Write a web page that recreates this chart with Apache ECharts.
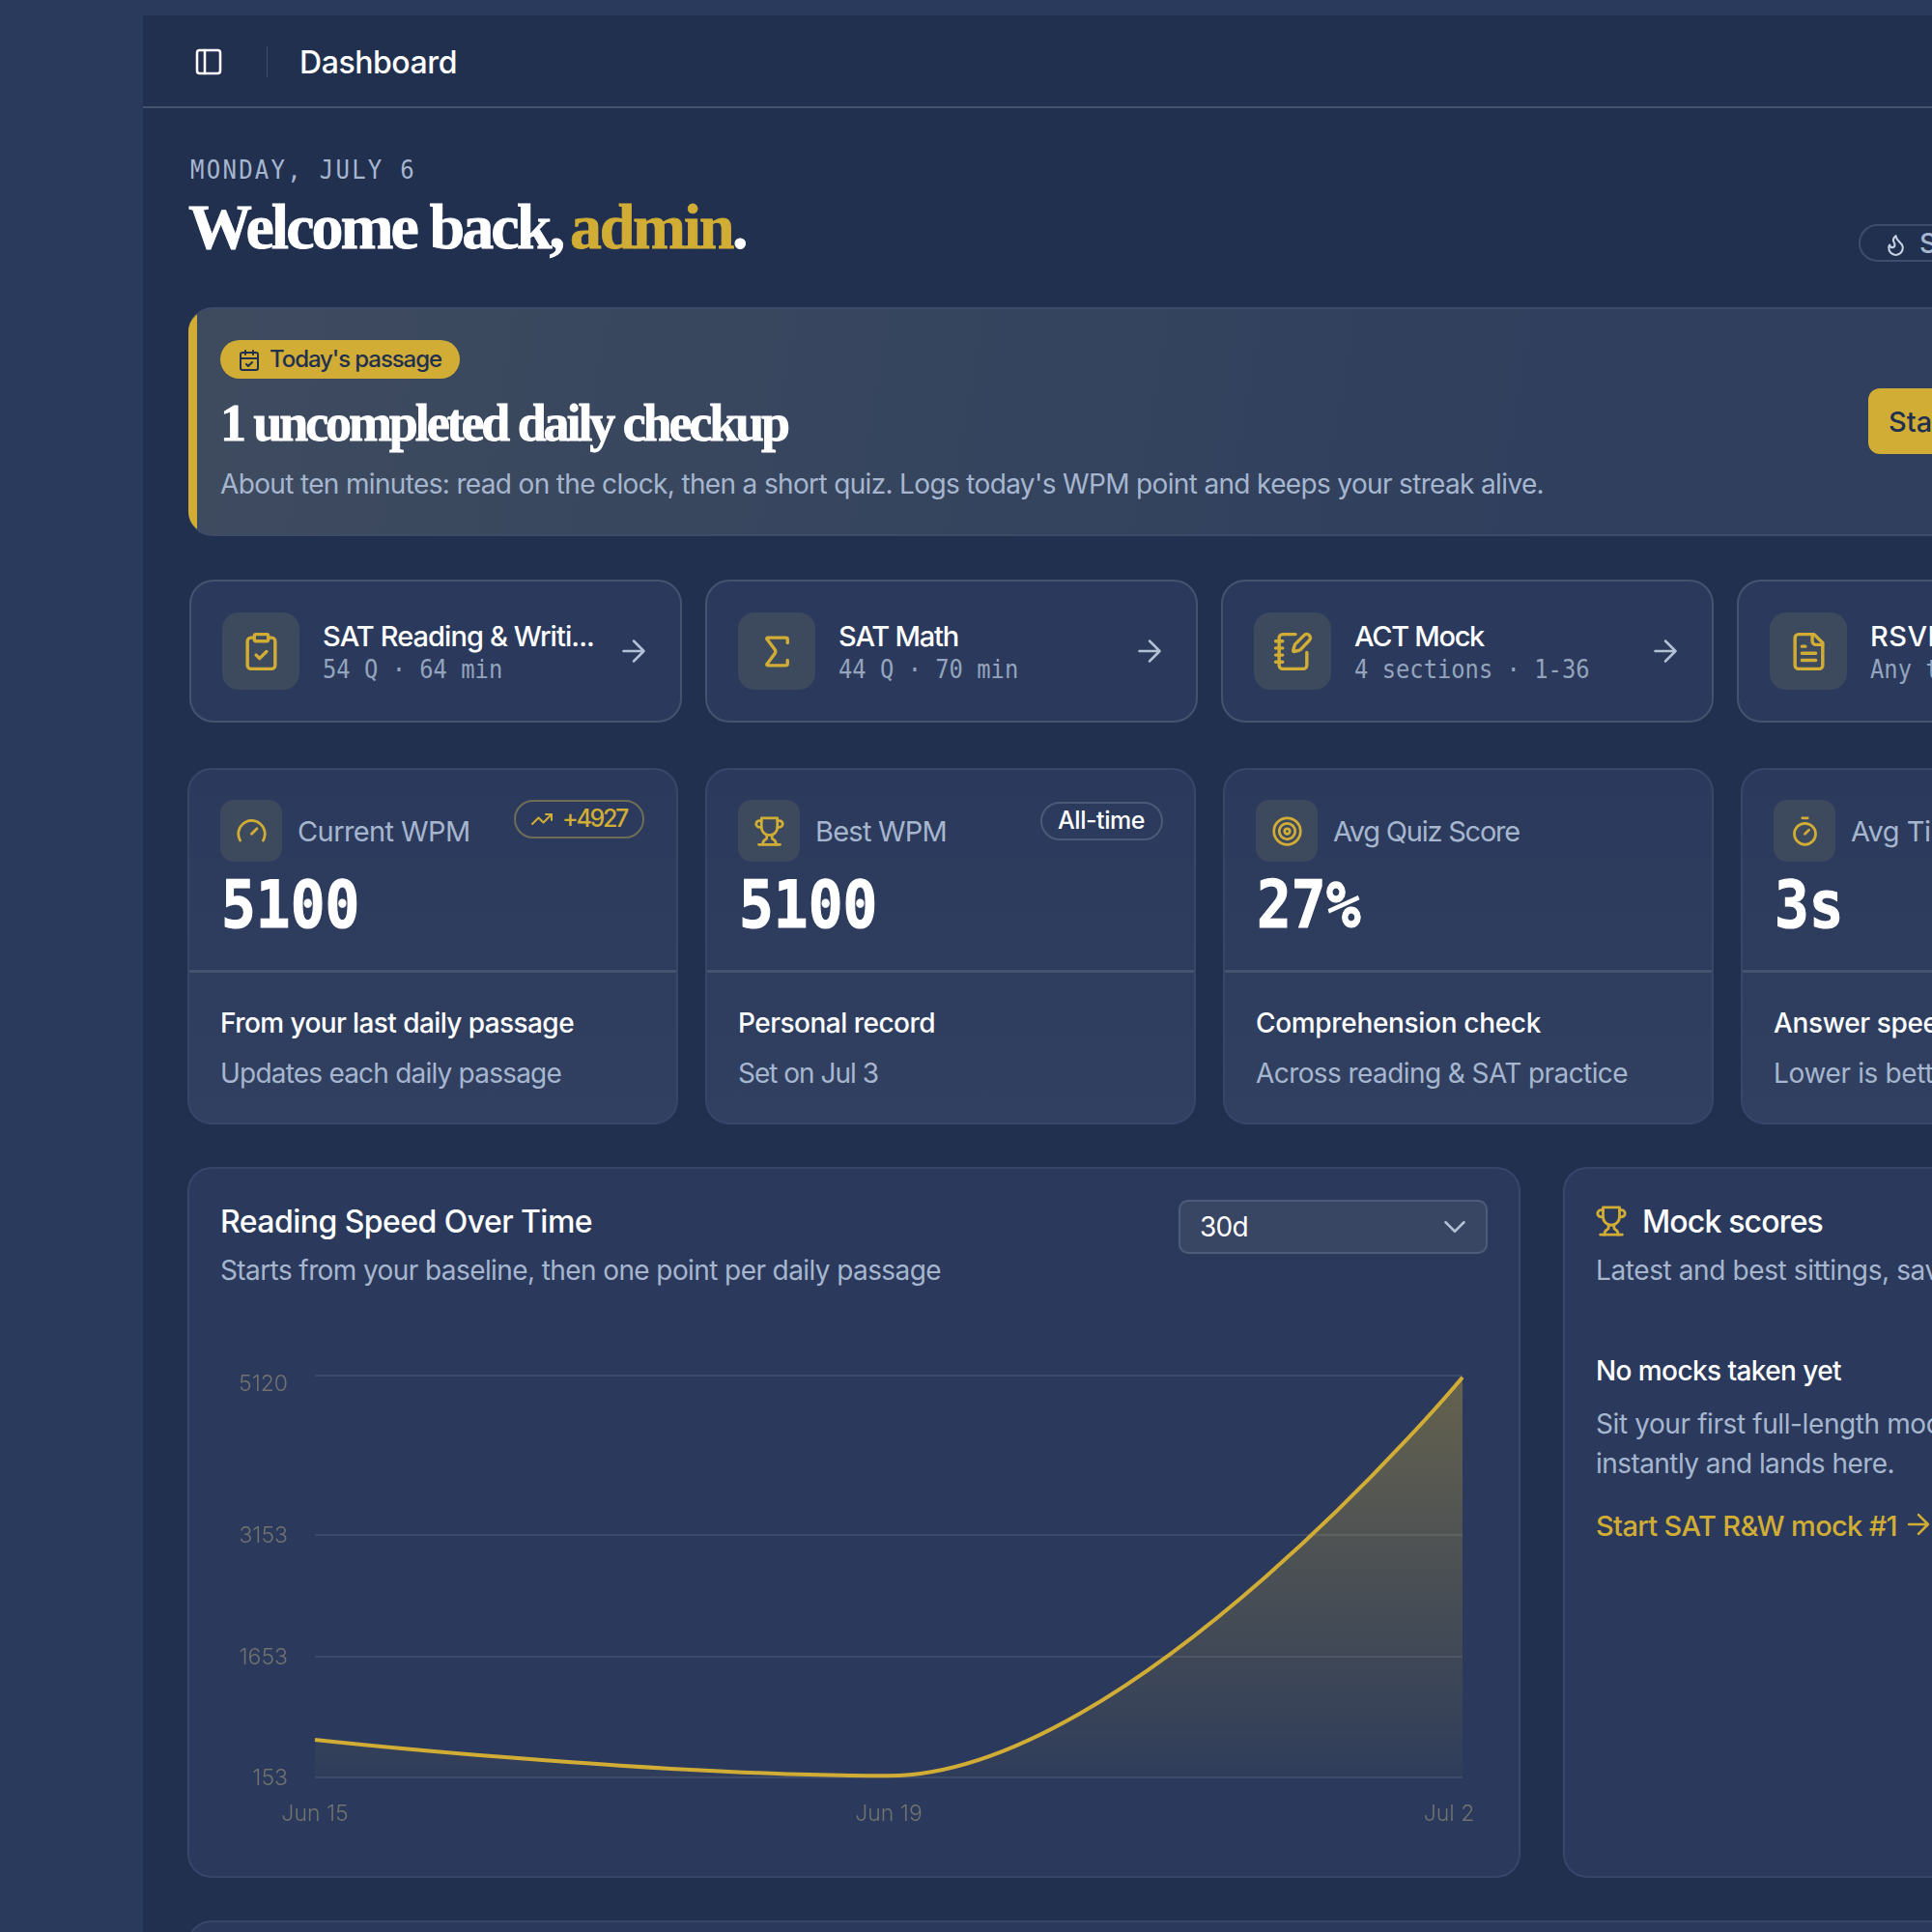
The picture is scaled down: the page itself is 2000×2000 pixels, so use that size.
<!DOCTYPE html>
<html><head><meta charset="utf-8"><title>Dashboard</title>
<script src="https://cdn.jsdelivr.net/npm/echarts@6/dist/echarts.min.js"></script>
<style>
html,body{margin:0;padding:0;width:2000px;height:2000px;overflow:hidden;background:#2a3a5c}
#page{position:relative;width:2000px;height:2000px;overflow:hidden;font-family:Inter,sans-serif}
.b{position:absolute;box-sizing:border-box}
.t{position:absolute;white-space:nowrap;line-height:1;transform:translateY(-50%)}
svg.i{position:absolute;fill:none;stroke-linecap:round;stroke-linejoin:round}
#chart{position:absolute;left:194px;top:1208px;width:1380px;height:736px}
</style></head><body><div id="page"></div>
<script>
// ---- chart data ----
const categories = ['Jun 15', 'Jun 19', 'Jul 2'];
const wpmValues = [620, 173, 5100];
const yTickValues = [153, 1653, 3153, 5120];
const yMin = 153;
const yMax = 5120;

// ---- page colours and fonts ----
const GOLD='#d1ad35', WHITE='#ffffff', MUTED='#a6b6cf', NAVY='#22304f', CARD='#2b3a5c', LINE='#3f4c6c';
const SANS='Inter,sans-serif', MONO='"DejaVu Sans Mono",monospace', SERIF='"Liberation Serif",serif';
const page=document.getElementById('page');

function box(x,y,w,h,css,parent){const d=document.createElement('div');d.className='b';d.style.cssText=`left:${x}px;top:${y}px;width:${w}px;height:${h}px;`+(css||'');(parent||page).appendChild(d);return d;}
function txt(x,cy,s,size,color,opt){opt=opt||{};const d=document.createElement('div');d.className='t';d.textContent=s;
  d.style.cssText=`left:${x}px;top:${cy}px;font-size:${size}px;color:${color};font-family:${opt.f||SANS};font-weight:${opt.w||400};`+(opt.css||'');
  page.appendChild(d);
  if(opt.fit){const r=d.getBoundingClientRect().width;d.style.letterSpacing=((opt.fit-r)/s.length)+'px';}
  if(opt.ls)d.style.letterSpacing=opt.ls+'px';
  return d;}
const ICONS={
 panel:'<rect x="3" y="3" width="18" height="18" rx="2"/><path d="M9 3v18"/>',
 calcheck:'<path d="M8 2v4M16 2v4"/><rect x="3" y="4" width="18" height="18" rx="2"/><path d="M3 10h18M9 16l2 2 4-4"/>',
 clip:'<rect x="8" y="2" width="8" height="4" rx="1"/><path d="M16 4h2a2 2 0 0 1 2 2v14a2 2 0 0 1-2 2H6a2 2 0 0 1-2-2V6a2 2 0 0 1 2-2h2"/><path d="m9 14 2 2 4-4"/>',
 sigma:'<path d="M18 7V5a1 1 0 0 0-1-1H6.5a.5.5 0 0 0-.4.8l4.5 6a2 2 0 0 1 0 2.4l-4.5 6a.5.5 0 0 0 .4.8H17a1 1 0 0 0 1-1v-2"/>',
 note:'<path d="M13.4 2H6a2 2 0 0 0-2 2v16a2 2 0 0 0 2 2h12a2 2 0 0 0 2-2v-7.4"/><path d="M2 6h4M2 10h4M2 14h4M2 18h4"/><path d="M21.4 5.6a2.1 2.1 0 1 0-3-3l-5 5a2 2 0 0 0-.5.9l-.8 2.9a.5.5 0 0 0 .6.6l2.9-.8a2 2 0 0 0 .9-.5z"/>',
 file:'<path d="M15 2H6a2 2 0 0 0-2 2v16a2 2 0 0 0 2 2h12a2 2 0 0 0 2-2V7z"/><path d="M14 2v4a2 2 0 0 0 2 2h4M10 9H8M16 13H8M16 17H8"/>',
 gauge:'<path d="m12 14 4-4"/><path d="M3.34 19a10 10 0 1 1 17.32 0"/>',
 trophy:'<path d="M6 9H4.5a2.5 2.5 0 0 1 0-5H6M18 9h1.5a2.5 2.5 0 0 0 0-5H18M4 22h16"/><path d="M10 14.66V17c0 .55-.47.98-.97 1.21C7.85 18.75 7 20.24 7 22M14 14.66V17c0 .55.47.98.97 1.21C16.15 18.75 17 20.24 17 22"/><path d="M18 2H6v7a6 6 0 0 0 12 0V2Z"/>',
 target:'<circle cx="12" cy="12" r="10"/><circle cx="12" cy="12" r="6"/><circle cx="12" cy="12" r="2"/>',
 timer:'<path d="M10 2h4M12 14l3-3"/><circle cx="12" cy="14" r="8"/>',
 trend:'<path d="m22 7-8.5 8.5-5-5L2 17"/><path d="M16 7h6v6"/>',
 arrow:'<path d="M5 12h14M12 5l7 7-7 7"/>',
 chev:'<path d="m6 9 6 6 6-6"/>',
 flame:'<path d="M8.5 14.5A2.5 2.5 0 0 0 11 12c0-1.38-.5-2-1-3-1.07-2.14-.22-4.05 2-6 .5 2.5 2 4.9 4 6.5 2 1.6 3 3.5 3 5.5a7 7 0 1 1-14 0c0-1.15.43-2.29 1-3a2.5 2.5 0 0 0 2.5 2.5z"/>'
};
function icon(name,cx,cy,size,color,sw){const ns='http://www.w3.org/2000/svg';const s=document.createElementNS(ns,'svg');
  s.setAttribute('class','i');s.setAttribute('viewBox','0 0 24 24');s.setAttribute('width',size);s.setAttribute('height',size);
  s.style.cssText=`left:${cx-size/2}px;top:${cy-size/2}px;stroke:${color};stroke-width:${sw||2}`;s.innerHTML=ICONS[name];page.appendChild(s);}

const HEAVY='-webkit-text-stroke:0.8px currentColor;';
// ---- shell ----
box(148,16,1852,1984,`background:${NAVY}`);
box(148,110,1852,2,'background:#46536f');
icon('panel',216,64,32,WHITE,1.9);
box(276,48,1,32,'background:#3f4c6c');
txt(310,65,'Dashboard',32,WHITE,{w:500,fit:163});
txt(197,176,'MONDAY, JULY 6',24,MUTED,{f:MONO,fit:234,css:'transform:translateY(-50%) scaleY(1.12);'});
txt(195,235,'Welcome back,',66,WHITE,{f:SERIF,w:700,fit:387,css:HEAVY});
txt(590,235,'admin',66,GOLD,{f:SERIF,w:700,fit:168,css:HEAVY});
txt(758,235,'.',66,WHITE,{f:SERIF,w:700,css:HEAVY});
box(1924,232,120,39,'border:2px solid #3f4c6c;border-radius:20px');
icon('flame',1962,253,25,'#c7d2e2',2);
txt(1987,252,'Streak',28,MUTED,{w:500});

// ---- hero ----
const hero=box(195,318,1900,237,'background:linear-gradient(100deg,#3e4b5f 0%,#2f3f5d 75%);border:2px solid #3d4a68;border-left:none;border-radius:25px;overflow:hidden');
box(0,-2,9,241,`background:${GOLD}`,hero);
box(228,352,248,40,`background:${GOLD};border-radius:20px`);
icon('calcheck',258,373,24,NAVY,2);
txt(279,372,"Today's passage",24,NAVY,{w:500,fit:178});
txt(228,438,'1 uncompleted daily checkup',54,WHITE,{f:SERIF,w:700,fit:587,css:HEAVY});
txt(228,501,"About ten minutes: read on the clock, then a short quiz. Logs today's WPM point and keeps your streak alive.",28,MUTED,{fit:1370});
box(1934,402,150,68,`background:${GOLD};border-radius:12px`);
txt(1955,436,'Start',29,NAVY,{w:500});

// ---- quick-start cards ----
const quick=[
 [196,'clip','SAT Reading & Writi...','54 Q · 64 min',281],
 [730,'sigma','SAT Math','44 Q · 70 min',124],
 [1264,'note','ACT Mock','4 sections · 1-36',134],
 [1798,'file','RSVP','Any text',null]];
quick.forEach(q=>{const x=q[0];
 box(x,600,510,148,`background:${CARD};border:2px solid #46536f;border-radius:25px`);
 box(x+34,634,80,80,'background:#3d4a5e;border-radius:17px');
 icon(q[1],x+74,674,43,GOLD,1.9);
 txt(x+138,658,q[2],29,WHITE,{w:500,fit:q[4],ls:q[4]?0:0.5});
 txt(x+138,694,q[3],23.8,'#94a4bd',{f:MONO,css:'transform:translateY(-50%) scaleY(1.1);'});
 if(x<1700)icon('arrow',x+460,674,36,'#b4c0d4',1.7);
});

// ---- stat cards ----
const stats=[
 [194,508,'gauge','Current WPM',178.6,'5100','From your last daily passage',366,'Updates each daily passage',353,34],
 [730,508,'trophy','Best WPM',136,'5100','Personal record',204,'Set on Jul 3',145,34],
 [1266,508,'target','Avg Quiz Score',193,'27%','Comprehension check',295,'Across reading & SAT practice',385,34],
 [1802,508,'timer','Avg Time',null,'3s','Answer speed',null,'Lower is better',null,34]];
stats.forEach(s=>{const x=s[0];const p=s[10];const last=s[4]===null;
 box(x,795,s[1],369,'background:linear-gradient(180deg,#2b3a5c 0%,#314060 100%);border:2px solid #38466a;border-radius:25px');
 box(x+2,1004,s[1]-4,3,'background:#46536f');
 box(x+p,828,64,64,'background:#3d4a5e;border-radius:14px');
 icon(s[2],x+p+32,860,33,GOLD,2);
 txt(x+p+80,860,s[3],29,MUTED,{fit:s[4],ls:last?-0.5:0});
 txt(x+p+1,937,s[5],59.5,WHITE,{f:MONO,w:700,css:'transform:translateY(-50%) scaleY(1.13);-webkit-text-stroke:1px #fff;'});
 txt(x+p,1059,s[6],28,WHITE,{w:500,fit:s[7],ls:last?-0.35:0});
 txt(x+p,1111,s[8],28,MUTED,{fit:s[9],ls:last?-0.35:0});
});
box(532,828,135,40,'border:2px solid #6f6c58;border-radius:20px');
icon('trend',561,848,24,GOLD,2);
txt(582,847,'+4927',25,GOLD,{w:500,fit:67});
box(1077,830,127,40,'border:2px solid #4b5a78;border-radius:20px');
txt(1095,849,'All-time',25,WHITE,{w:500,fit:90});

// ---- chart card ----
box(194,1208,1380,736,`background:${CARD};border:2px solid #38466a;border-radius:25px`);
txt(228,1265,'Reading Speed Over Time',32,WHITE,{w:500,fit:385});
txt(228,1315,'Starts from your baseline, then one point per daily passage',28,MUTED,{fit:746});
box(1220,1242,320,56,'background:#384563;border:2px solid #4f5c79;border-radius:10px');
txt(1242,1270,'30d',28,WHITE,{fit:50});
icon('chev',1506,1270,38,'#b4c0d4',1.6);

// ---- mock card ----
box(1618,1208,500,736,`background:${CARD};border:2px solid #38466a;border-radius:25px`);
icon('trophy',1668,1264,34,GOLD,2);
txt(1700,1265,'Mock scores',32,WHITE,{w:500,fit:187});
txt(1652,1315,'Latest and best sittings, saved',28,MUTED,{ls:-0.4});
txt(1652,1419,'No mocks taken yet',28,WHITE,{w:500,fit:254});
txt(1652,1474,'Sit your first full-length mock',28,MUTED,{ls:-0.4});
txt(1652,1515,'instantly and lands here.',28,MUTED,{fit:309});
txt(1652,1579,'Start SAT R&W mock #1',29,GOLD,{w:500,fit:312});
icon('arrow',1986,1578,34,GOLD,1.8);
box(194,1988,1900,100,`background:${CARD};border:2px solid #38466a;border-radius:25px`);

// ---- the chart ----
const host=document.createElement('div');host.id='chart';page.appendChild(host);
const chart=echarts.init(host,null,{renderer:'canvas'});
const axisFont={fontFamily:SANS,fontSize:23,fontWeight:300,color:'#70726f'};
chart.setOption({
 animation:false,
 backgroundColor:'transparent',
 grid:{left:132,right:60,top:216,bottom:104},
 xAxis:{type:'category',boundaryGap:false,data:categories,
  axisLine:{show:false},axisTick:{show:false},
  axisLabel:Object.assign({},axisFont,{interval:0,margin:27,hideOverlap:false,showMinLabel:true,showMaxLabel:true,
    formatter:(v,i)=>i===categories.length-1?'{end|'+v+'}':v,
    rich:{end:Object.assign({},axisFont,{padding:[0,28,0,0]})}})},
 yAxis:{type:'value',min:yMin,max:yMax,
  axisLine:{show:false},
  axisTick:{show:false,customValues:yTickValues},
  axisLabel:Object.assign({},axisFont,{margin:28,customValues:yTickValues,padding:[3,0,0,0],
    formatter:v=>v===yMax?'{top|'+v+'}':String(v),
    rich:{top:Object.assign({},axisFont,{padding:[16,0,0,0]})}}),
  splitLine:{show:true,lineStyle:{color:'#3d4a6a',width:2}}},
 series:[{type:'line',data:wpmValues,smooth:0.42,smoothMonotone:'x',showSymbol:false,symbol:'none',
  lineStyle:{color:GOLD,width:4},
  areaStyle:{origin:'start',color:new echarts.graphic.LinearGradient(0,0,0,1,[
    {offset:0,color:'rgba(209,173,53,0.5)'},{offset:1,color:'rgba(209,173,53,0.04)'}])}}]
});
</script></body></html>
